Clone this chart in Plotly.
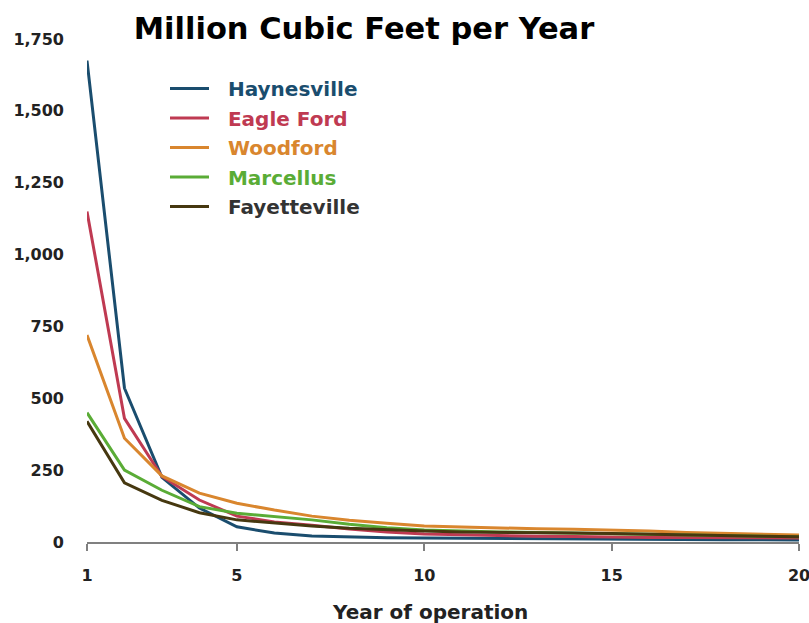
import plotly.graph_objects as go

years = list(range(1, 21))
series_names = ["Haynesville", "Eagle Ford", "Woodford", "Marcellus", "Fayetteville"]
haynesville = [1675, 535, 225, 118, 53, 31, 21, 17, 15, 14, 13, 12, 11, 11, 10, 9, 9, 8, 8, 7]
eagle_ford = [1150, 430, 228, 146, 90, 70, 58, 45, 35, 28, 25, 22, 20, 19, 17, 16, 16, 15, 15, 14]
woodford = [720, 361, 230, 170, 135, 111, 90, 76, 65, 56, 52, 48, 46, 44, 42, 38, 33, 30, 27, 24]
marcellus = [450, 250, 180, 123, 100, 88, 77, 62, 50, 42, 38, 35, 33, 31, 30, 27, 24, 22, 20, 18]
fayetteville = [420, 206, 145, 102, 77, 66, 56, 48, 42, 38, 35, 33, 32, 31, 30, 27, 24, 22, 20, 18]
y_ticks = [0, 250, 500, 750, 1000, 1250, 1500, 1750]
x_ticks = [1, 5, 10, 15, 20]

line_colors = ["#1a4d6e", "#bf3a52", "#d9862e", "#5aac36", "#463810"]
text_colors = ["#1a4d6e", "#bf3a52", "#d9862e", "#5aac36", "#333333"]
values = [haynesville, eagle_ford, woodford, marcellus, fayetteville]

fig = go.Figure()
for name, vals, lc, tc in zip(series_names, values, line_colors, text_colors):
    fig.add_trace(go.Scatter(
        x=years, y=vals, mode="lines",
        name=f"&nbsp;&nbsp;<span style='color:{tc}'>{name}</span>",
        legendgroup=name,
        line=dict(color=lc, width=3),
    ))

W, H = 809, 623
L, R, T, B = 87, 10, 39, 81
pw, ph = W - L - R, H - T - B

fig.update_layout(
    width=W, height=H,
    margin=dict(l=L, r=R, t=T, b=B, pad=0, autoexpand=False),
    paper_bgcolor="white", plot_bgcolor="white",
    font=dict(family="DejaVu Sans", size=16, color="#222222"),
    title=dict(
        text="Million Cubic Feet per Year",
        font=dict(family="DejaVu Sans", size=30.5, color="#000000", weight="bold"),
        x=364 / W, xanchor="center", xref="container",
        y=1 - 28.5 / H, yanchor="middle", yref="container",
    ),
    legend=dict(
        x=(165 - L) / pw, y=(542 - 69) / ph, xanchor="left", yanchor="top",
        font=dict(family="DejaVu Sans", size=20, weight="bold"),
        bgcolor="rgba(0,0,0,0)", tracegroupgap=0.5, itemwidth=39,
    ),
    xaxis=dict(
        range=[1, 20], tickvals=x_ticks, showgrid=False, zeroline=False,
        showline=True, linecolor="#808080", linewidth=2,
        ticks="outside", ticklen=7, tickwidth=2, tickcolor="#808080",
        ticklabelstandoff=11, ticklabeloverflow="allow", automargin=False,
        tickfont=dict(family="DejaVu Sans", size=16, color="#222222", weight="bold"),
    ),
    yaxis=dict(
        range=[0, 1750], tickvals=y_ticks, tickformat=",", showgrid=False,
        zeroline=False, showline=False, ticks="", automargin=False,
        ticklabelstandoff=22,
        tickfont=dict(family="DejaVu Sans", size=16, color="#222222", weight="bold"),
    ),
    annotations=[dict(
        text="Year of operation", xref="paper", yref="paper",
        x=(430 - L) / pw, y=(542 - 612) / ph, xanchor="center", yanchor="middle",
        showarrow=False,
        font=dict(family="DejaVu Sans", size=20, color="#222222", weight="bold"),
    )],
)

fig.write_html("out.html", config={"displayModeBar": False},
               post_script="document.body.style.margin='0';")
